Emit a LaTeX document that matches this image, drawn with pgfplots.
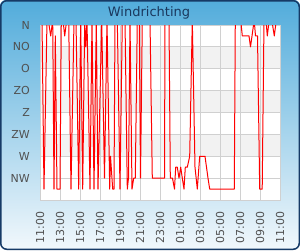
\documentclass[border=0pt]{standalone}
\usepackage{fontspec}
\setmainfont{DejaVu Sans}
\usepackage{pgfplots}
\pgfplotsset{compat=1.18}
\definecolor{bgtop}{RGB}{82,172,219}
\definecolor{bgmid}{RGB}{150,205,235}
\definecolor{bgbot}{RGB}{242,248,252}
\definecolor{bordercol}{RGB}{22,58,102}
\definecolor{titlecol}{RGB}{26,56,94}
\definecolor{labcol}{RGB}{80,80,80}
\definecolor{gridcol}{RGB}{208,208,208}
\definecolor{bandcol}{RGB}{242,242,242}
\begin{document}
\begin{tikzpicture}
\shade[top color=bgtop, middle color=bgmid, bottom color=bgbot, rounded corners=6pt] (0pt,0pt) rectangle (300pt,250pt);
\draw[bordercol, line width=1.5pt, rounded corners=6pt] (0.75pt,0.75pt) rectangle (299.25pt,249.25pt);
\node[anchor=base, font=\fontsize{13}{15}\selectfont, text=titlecol, inner sep=0pt] at (149pt,234pt) {Windrichting};
% plot area background and alternating bands
\fill[white] (40pt,50pt) rectangle (280pt,225pt);
\fill[bandcol] (40pt,181.25pt) rectangle (280pt,203.125pt);
\fill[bandcol] (40pt,137.5pt) rectangle (280pt,159.375pt);
\fill[bandcol] (40pt,93.75pt) rectangle (280pt,115.625pt);
\begin{axis}[
  at={(40pt,50pt)}, anchor=south west,
  scale only axis, width=240pt, height=175pt,
  xmin=0, xmax=24, ymin=0, ymax=360, y dir=reverse,
  xtick={0,2,...,24},
  xticklabels={11:00,13:00,15:00,17:00,19:00,21:00,23:00,01:00,03:00,05:00,07:00,09:00,11:00},
  ytick={0,45,...,315},
  yticklabels={N,NO,O,ZO,Z,ZW,W,NW},
  major tick length=0pt,
  grid=major,
  grid style={gridcol, line width=0.8pt},
  axis line style={gridcol, line width=0.8pt},
  tick label style={font=\fontsize{11}{13}\selectfont, text=labcol, inner sep=0pt},
  xticklabel style={yshift=-11.7pt, rotate=90, anchor=east},
  yticklabel style={xshift=-10pt, anchor=east},
]
\addplot[red, line width=1pt, line join=round, mark=none] coordinates {
(0.20,-10) (0.40,337.5) (0.70,-10) (0.83,-10) (1.07,22.5) (1.27,-10) (1.40,337.5) (1.53,22.5)
(1.70,337.5) (2.00,337.5) (2.13,-10) (2.30,-10) (2.47,22.5) (2.67,-10) (2.87,-10) (3.10,337.5)
(3.40,-10) (3.60,-10) (3.87,337.5) (4.07,-10) (4.27,337.5) (4.47,-10) (4.57,45) (4.70,-10)
(5.00,337.5) (5.20,-10) (5.40,337.5) (5.63,-10) (5.80,337.5) (6.17,-10) (6.45,315)
(6.70,-10) (6.97,337.5) (7.05,270) (7.27,337.5) (7.40,337.5) (7.50,-10) (7.73,-10) (8.00,337.5)
(8.23,-10) (8.50,-10) (8.73,337.5) (8.85,315) (9.00,-10) (9.20,337.5) (9.37,315) (9.53,315)
(9.73,-10) (9.93,-10) (10.05,315) (10.23,-10) (11.00,-10) (11.23,315) (12.45,315) (12.50,-10)
(12.90,-10) (13.03,315) (13.25,315) (13.45,337.5) (13.57,292.5) (13.73,292.5) (13.90,315) (14.07,292.5)
(14.23,315) (14.40,337.5) (14.53,292.5) (14.73,292.5) (14.97,270) (15.23,-10) (15.50,292.5) (15.73,337.5)
(15.97,270) (16.50,270) (16.80,315) (16.97,337.5) (19.43,337.5) (19.53,-10) (20.07,-10) (20.23,22.5)
(20.90,22.5) (21.05,45) (21.42,-10) (21.55,22.5) (21.75,22.5) (21.97,337.5) (22.22,337.5) (22.40,-10)
(22.60,-10) (22.73,22.5) (22.92,-10) (23.18,-10) (23.43,22.5) (23.63,-10)
};
\end{axis}
\pgfresetboundingbox
\useasboundingbox (0pt,0pt) rectangle (300pt,250pt);
\end{tikzpicture}
\end{document}
